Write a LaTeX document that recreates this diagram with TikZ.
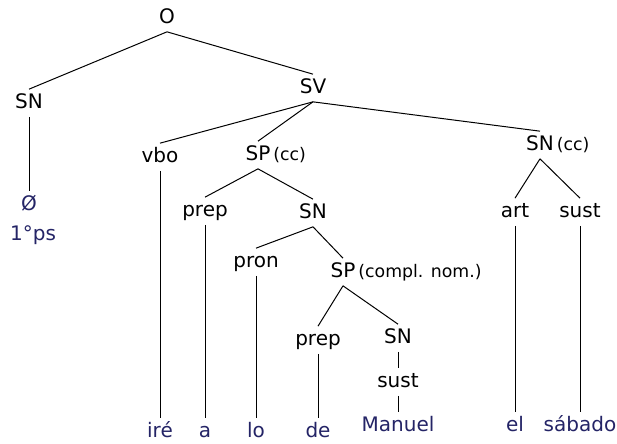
\documentclass[tikz,border=0pt]{standalone}
\usepackage{fontspec}
\setmainfont{DejaVu Sans}
\definecolor{palabra}{RGB}{36,36,102}

\tikzset{
  cat/.style={font=\fontsize{15}{18}\selectfont, inner sep=3pt, text height=11pt, text depth=3pt},
  nota/.style={font=\fontsize{13}{15}\selectfont, inner sep=0pt, anchor=base west},
  pal/.style={font=\fontsize{15}{18}\selectfont, text=palabra, inner sep=3pt, text height=11pt, text depth=3pt}
}

\begin{document}
\begin{tikzpicture}[x=0.75pt,y=-0.75pt,line width=0.75pt]
   \useasboundingbox (0,0) rectangle (617,443);
   % categorias
   \node[cat] (o) at (167,18) {O};
   \node[cat] (sn) at (29,103) {SN};
   \node[cat] (sv) at (313,88) {SV};
   \node[pal] (vacio) at (29,205) {Ø};
   \node[pal] (pers) at (33,235) {1°ps};
   \node[cat] (vbo) at (160,157) {vbo};
   \node[cat] (spcc) at (258,155) {SP};
   \node[nota] (spccnota) at ([xshift=-1.5pt]spcc.base east) {(cc)};
   \node[cat] (sncc) at (540,145) {SN};
   \node[nota] (snccnota) at ([xshift=-1.5pt]sncc.base east) {(cc)};
   \node[cat] (prepa) at (205,211) {prep};
   \node[cat] (snb) at (313,213) {SN};
   \node[cat] (pron) at (256,262) {pron};
   \node[cat] (spcn) at (343,272) {SP};
   \node[nota] (spcnnota) at ([xshift=-1.5pt]spcn.base east) {(compl. nom.)};
   \node[cat] (prepb) at (318,340) {prep};
   \node[cat] (snc) at (398,338) {SN};
   \node[cat] (susta) at (398,382) {sust};
   \node[cat] (art) at (515,212) {art};
   \node[cat] (sustb) at (580,212) {sust};
   % palabras
   \node[pal] (ire) at (160,432) {iré};
   \node[pal] (a) at (205,432) {a};
   \node[pal] (lo) at (256,432) {lo};
   \node[pal] (de) at (318,432) {de};
   \node[pal] (manuel) at (398,426) {Manuel};
   \node[pal] (el) at (515,426) {el};
   \node[pal] (sabado) at (580,426) {sábado};
   % ramas
   \draw (o.south) -- (sn.north);
   \draw (o.south) -- (sv.north);
   \draw (sn) -- (vacio);
   \draw (sv.south) -- (vbo.north);
   \draw (sv.south) -- (spcc.north);
   \draw (sv.south) -- (sncc.north);
   \draw (vbo) -- (ire);
   \draw (spcc.south) -- (prepa.north);
   \draw (spcc.south) -- (snb.north);
   \draw (prepa) -- (a);
   \draw (snb.south) -- (pron.north);
   \draw (snb.south) -- (spcn.north);
   \draw (pron) -- (lo);
   \draw (spcn.south) -- (prepb.north);
   \draw (spcn.south) -- (snc.north);
   \draw (prepb) -- (de);
   \draw (snc) -- (susta);
   \draw (susta) -- (manuel);
   \draw (sncc.south) -- (art.north);
   \draw (sncc.south) -- (sustb.north);
   \draw (art) -- (el);
   \draw (sustb) -- (sabado);
\end{tikzpicture}
\end{document}
